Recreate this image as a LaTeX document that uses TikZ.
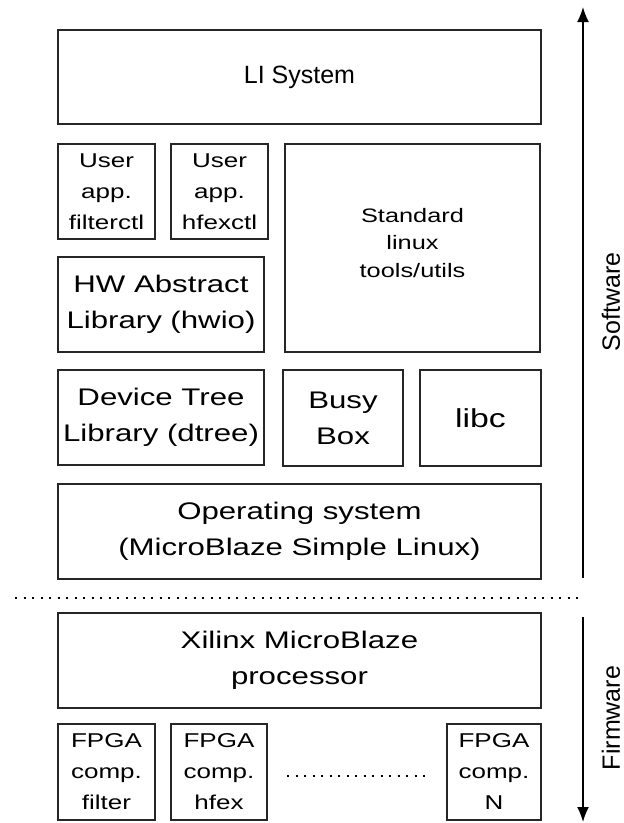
\documentclass[tikz,border=0pt]{standalone}
\usepackage{fontspec}
\setmainfont{Liberation Sans}
\newfontfamily\widefont[FakeStretch=1.3]{Liberation Sans}
\usetikzlibrary{arrows.meta}
\tikzset{
  box/.style={draw=black!85, line width=1.6pt, align=center, inner sep=0pt, anchor=center},
  bigtxt/.style={font=\widefont\fontsize{24}{36}\selectfont},
  midtxt/.style={font=\widefont\fontsize{19.5}{27.5}\selectfont},
  smalltxt/.style={font=\widefont\fontsize{20}{31}\selectfont},
  arr/.style={line width=1.6pt, -{Latex[length=15pt,width=12pt]}},
  dotline/.style={line width=2pt, dash pattern=on 2pt off 6.5pt},
  sidelbl/.style={font=\fontsize{25}{30}\selectfont, rotate=90, anchor=center}
}
\begin{document}
\begin{tikzpicture}[x=1pt,y=-1pt]
\useasboundingbox (0,0) rectangle (624,823);
% software layers
\node[box,font=\fontsize{25}{36}\selectfont,minimum width=483pt,minimum height=94pt] (li) at (299.5,77) {LI System};
\node[box,smalltxt,minimum width=97pt,minimum height=95pt] (ua1) at (106.5,191.5) {User\\app.\\filterctl};
\node[box,smalltxt,minimum width=97pt,minimum height=95pt] (ua2) at (219.5,191.5) {User\\app.\\hfexctl};
\node[box,minimum width=255pt,minimum height=208pt] (std) at (412.5,248) {};
\node[midtxt,align=center] (stdtxt) at (412.5,243) {Standard\\linux\\tools/utils};
\node[box,bigtxt,minimum width=206pt,minimum height=95pt] (hw) at (161,304.5) {HW Abstract\\Library (hwio)};
\node[box,bigtxt,minimum width=206pt,minimum height=95pt] (dt) at (161,417.5) {Device Tree\\Library (dtree)};
\node[box,bigtxt,minimum width=120pt,minimum height=96pt] (bb) at (343,418) {Busy\\Box};
\node[box,font=\widefont\fontsize{26}{36}\selectfont,minimum width=121pt,minimum height=96pt] (libc) at (480.5,418) {libc};
\node[box,bigtxt,minimum width=483pt,minimum height=95pt] (os) at (299.5,531.5) {Operating system\\(MicroBlaze Simple Linux)};
% separator
\coordinate (sepL) at (15,598);
\coordinate (sepR) at (582,598);
\draw[dotline] (sepL) -- (sepR);
% firmware layers
\node[box,bigtxt,minimum width=483pt,minimum height=95pt] (xil) at (299.5,660.5) {Xilinx MicroBlaze\\processor};
\node[box,smalltxt,minimum width=97pt,minimum height=96pt] (f1) at (106.5,772) {FPGA\\comp.\\filter};
\node[box,smalltxt,minimum width=96pt,minimum height=96pt] (f2) at (219,772) {FPGA\\comp.\\hfex};
\node[box,smalltxt,minimum width=94pt,minimum height=96pt] (fn) at (494,772) {FPGA\\comp.\\N};
\coordinate (dotsL) at (287,776);
\coordinate (dotsR) at (428,776);
\draw[dotline] (dotsL) -- (dotsR);
% side arrows
\coordinate (swbot) at (583,578);
\coordinate (swtop) at (583,7);
\draw[arr] (swbot) -- (swtop);
\coordinate (fwtop) at (583,617);
\coordinate (fwbot) at (583,822);
\draw[arr] (fwtop) -- (fwbot);
\node[sidelbl] (sw) at (611,302) {Software};
\node[sidelbl] (fw) at (611,718) {Firmware};
\end{tikzpicture}
\end{document}
